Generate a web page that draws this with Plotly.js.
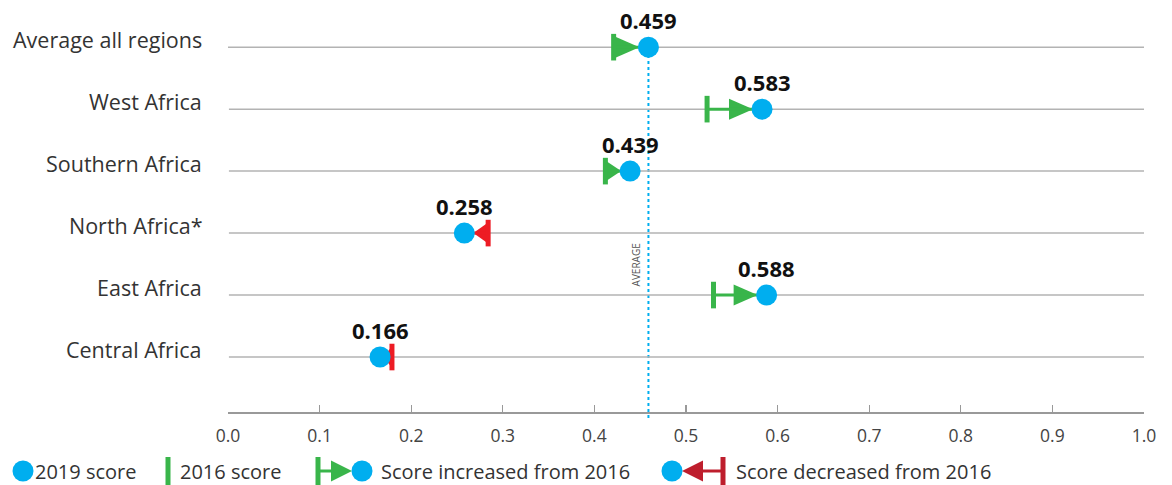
<!DOCTYPE html>
<html>
<head>
<meta charset="utf-8">
<script src="https://cdn.plot.ly/plotly-3.0.1.min.js"></script>
<style>
html,body{margin:0;padding:0;background:#fff;}
#chart{width:1172px;height:485px;}
</style>
</head>
<body>
<div id="chart"></div>
<script>
// ---- data ----
const regions = ['Average all regions','West Africa','Southern Africa','North Africa*','East Africa','Central Africa'];
const score2019 = [0.459, 0.583, 0.439, 0.258, 0.588, 0.166];
const score2016 = [0.421, 0.523, 0.412, 0.284, 0.530, 0.179];
const xTickVals = [0,0.1,0.2,0.3,0.4,0.5,0.6,0.7,0.8,0.9,1.0];
const xTickText = ['0.0','0.1','0.2','0.3','0.4','0.5','0.6','0.7','0.8','0.9','1.0'];
const averageValue = score2019[0];
const legendLabels = ['2019 score','2016 score','Score increased from 2016','Score decreased from 2016'];

// ---- styling ----
const BLUE = '#00aeef', GREEN = '#39b54a', RED = '#ed1c24', DARKRED = '#be1e2d';
const FONT = '"Open Sans", "Noto Sans", sans-serif';
const W = 1172, H = 485;
const plotL = 228, plotR = 1144, plotT = 10, plotB = 412;
const pxPerUnit = plotR - plotL;
const TRI_H = 10.5, TRI_MAXBASE = 33, TRI_TIP = 9;

const n = regions.length;
const rowY = regions.map((r,i) => n - i);   // top row highest
const up = score2019.map((v,i) => v >= score2016[i]);
const colors = up.map(u => u ? GREEN : RED);

function triPath(base, tip) {
  return `M ${base},${-TRI_H} L ${tip},0 L ${base},${TRI_H} Z`;
}

const shapes = [];
// row gridlines
rowY.forEach((y,i) => shapes.push({type:'line', xref:'x', x0: i===0 ? -0.005 : 0.001, x1:1.007, yref:'y', y0:y, y1:y, line:{color:'#b3b3b3', width:1.5}, layer:'below'}));
// average dotted line
shapes.push({type:'line', xref:'x', x0:averageValue, x1:averageValue, yref:'paper', y0:1-418/H, y1:1-35/H, line:{color:BLUE, width:2, dash:'dot'}, layer:'below'});
// direction triangles, anchored on the 2019 score, pointing toward it
score2019.forEach((v,i) => {
  const diffPx = (score2016[i] - v) * pxPerUnit;   // where the 2016 bar sits relative to the circle
  const sgn = diffPx < 0 ? -1 : 1;
  const base = sgn * Math.min(TRI_MAXBASE, Math.abs(diffPx));
  const tip = sgn * Math.min(TRI_TIP, Math.abs(base) - 9);
  shapes.push({type:'path', xref:'x', yref:'y', xsizemode:'pixel', ysizemode:'pixel', xanchor:v, yanchor:rowY[i],
    path: triPath(base, tip), fillcolor: colors[i], line:{width:0}, layer:'below'});
});

const traces = [];
// connectors (per color)
[true,false].forEach(flag => {
  const xs = [], ys = [];
  regions.forEach((r,i) => { if (up[i] === flag) { xs.push(score2016[i], score2019[i], null); ys.push(rowY[i], rowY[i], null); } });
  traces.push({x: xs, y: ys, mode:'lines', line:{color: flag?GREEN:RED, width:3}, hoverinfo:'skip', showlegend:false, cliponaxis:false});
});
// 2016 bars
traces.push({x: score2016, y: rowY, mode:'markers', marker:{symbol:'line-ns', size:19, line:{width:5, color: colors}}, showlegend:false, cliponaxis:false});
// 2019 circles
traces.push({x: score2019, y: rowY, mode:'markers', marker:{symbol:'circle', size:21, color: BLUE, line:{width:0}}, showlegend:false, cliponaxis:false});

// legend marks on a pixel-coordinate subplot
const LY = 471;
const lg = (o) => Object.assign({xaxis:'x2', yaxis:'y2', showlegend:false, hoverinfo:'skip', cliponaxis:false}, o);
traces.push(lg({x:[23], y:[LY], mode:'markers', marker:{symbol:'circle', size:21, color:BLUE}}));
traces.push(lg({x:[168], y:[LY], mode:'markers', marker:{symbol:'line-ns', size:20, line:{width:5,color:GREEN}}}));
// increased
traces.push(lg({x:[318,340], y:[LY,LY], mode:'lines', line:{color:GREEN,width:3}}));
traces.push(lg({x:[318], y:[LY], mode:'markers', marker:{symbol:'line-ns', size:20, line:{width:5,color:GREEN}}}));
shapes.push({type:'path', xref:'x2', yref:'y2', xsizemode:'pixel', ysizemode:'pixel', xanchor:362, yanchor:LY, path:triPath(-31,-10), fillcolor:GREEN, line:{width:0}, layer:'below'});
traces.push(lg({x:[362], y:[LY], mode:'markers', marker:{symbol:'circle', size:21, color:BLUE}}));
// decreased
traces.push(lg({x:[695,723], y:[LY,LY], mode:'lines', line:{color:DARKRED,width:3}}));
traces.push(lg({x:[723], y:[LY], mode:'markers', marker:{symbol:'line-ns', size:20, line:{width:5,color:DARKRED}}}));
shapes.push({type:'path', xref:'x2', yref:'y2', xsizemode:'pixel', ysizemode:'pixel', xanchor:672, yanchor:LY, path:triPath(31,10), fillcolor:DARKRED, line:{width:0}, layer:'below'});
traces.push(lg({x:[672], y:[LY], mode:'markers', marker:{symbol:'circle', size:21, color:BLUE}}));

const annotations = [];
// region labels
regions.forEach((r,i) => annotations.push({text:r, xref:'paper', x:204/W, xanchor:'right', yref:'y', y:rowY[i], yanchor:'middle', yshift:8, showarrow:false, font:{family:FONT, size:21.5, color:'#333'}}));
// value labels
score2019.forEach((v,i) => annotations.push({text:'<b>'+v.toFixed(3)+'</b>', xref:'x', x:v, xanchor:'center', yref:'y', y:rowY[i], yanchor:'middle', yshift:27, showarrow:false, font:{family:FONT, size:22, color:'#111'}}));
// AVERAGE label
annotations.push({text:'AVERAGE', xref:'x', x:averageValue, xshift:-12, yref:'paper', y:1-265/H, textangle:-90, showarrow:false, font:{family:FONT, size:10, color:'#555'}});
// legend labels
const legX = [33, 178, 379, 734];
legendLabels.forEach((t,i) => annotations.push({text:t, xref:'x2', x:legX[i], xanchor:'left', yref:'y2', y:LY, yanchor:'middle', showarrow:false, font:{family:FONT, size:20, color:'#333'}}));

const layout = {
  width: W, height: H,
  margin:{l:0, r:0, t:0, b:0, pad:0},
  paper_bgcolor:'#fff', plot_bgcolor:'rgba(0,0,0,0)',
  showlegend:false,
  font:{family:FONT, color:'#333'},
  xaxis:{domain:[plotL/W, plotR/W], range:[0,1], tickvals:xTickVals, ticktext:xTickText, ticks:'inside', ticklen:7, tickcolor:'#999', tickwidth:1.2,
    ticklabelstandoff:7,
    showline:true, linecolor:'#999', linewidth:1.5, showgrid:false, zeroline:false, tickfont:{family:FONT, size:17.5, color:'#444'}, fixedrange:true, automargin:false, anchor:'y'},
  yaxis:{domain:[1-plotB/H, 1-plotT/H], range:[rowY[n-1]-0.887, rowY[0]+0.6], showticklabels:false, showgrid:false, zeroline:false, showline:false, ticks:'', fixedrange:true, automargin:false, anchor:'x'},
  xaxis2:{domain:[0,1], range:[0,W], visible:false, anchor:'y2', fixedrange:true},
  yaxis2:{domain:[0,50/H], range:[H, H-50], visible:false, anchor:'x2', fixedrange:true},
  annotations, shapes
};

Plotly.newPlot('chart', traces, layout, {displayModeBar:false, staticPlot:true});
</script>
</body>
</html>
